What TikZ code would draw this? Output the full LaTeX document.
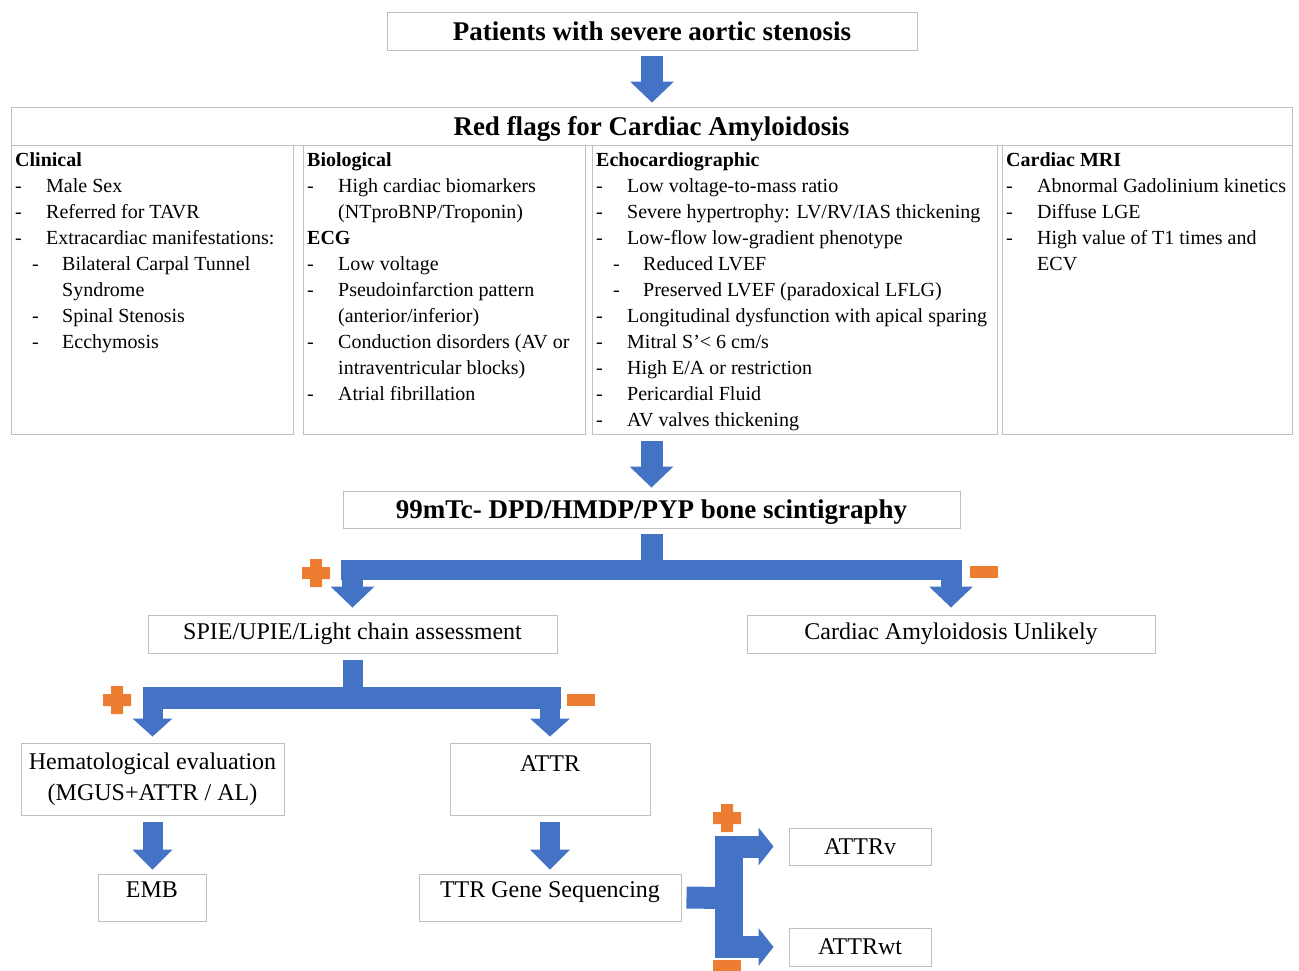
\documentclass[tikz,border=0pt]{standalone}
\usepackage{fontspec}
\setmainfont{Liberation Serif}
\usetikzlibrary{arrows.meta}

\definecolor{flowblue}{HTML}{4472C4}
\definecolor{signorange}{HTML}{ED7D31}
\definecolor{framegray}{HTML}{BFBFBF}

\newcommand{\flag}[1]{\makebox[31pt][l]{-}#1}
\newcommand{\subflag}[1]{\hspace*{17pt}\makebox[30pt][l]{-}#1}
\newcommand{\wrapflag}{\hspace*{31pt}}
\newcommand{\wrapsub}{\hspace*{47pt}}

\tikzset{frame/.style={draw=framegray,line width=1pt,inner sep=0pt},
         heading/.style={font=\fontsize{27}{32}\selectfont\bfseries},
         plain/.style={font=\fontsize{24}{31}\selectfont,align=center},
         listing/.style={font=\fontsize{20}{26}\selectfont,align=left,anchor=north west,inner sep=0pt},
         fat/.style={flowblue,line width=22pt},
         fatarrow/.style={fat,-{Triangle[width=44pt,length=21pt,line width=0pt]}},
         plussign/.pic={\fill[signorange] (-14,-6) rectangle (14,6) (-6,-14) rectangle (6,14);},
         minussign/.pic={\fill[signorange] (-14,-6) rectangle (14,6);}}

\begin{document}
\begin{tikzpicture}[x=1pt,y=-1pt]
\useasboundingbox (0,0) rectangle (1299,970);

% top of the chart
\node[frame,heading,minimum width=530pt,minimum height=38pt] (patients) at (652,31) {Patients with severe aortic stenosis};
\node[frame,heading,text depth=0pt,minimum width=1281pt,minimum height=38pt] (flags) at (651.5,126) {Red flags for Cardiac Amyloidosis};
\node[frame,minimum width=282pt,minimum height=289pt,anchor=north west] (clin) at (11,145) {};
\node[frame,minimum width=282pt,minimum height=289pt,anchor=north west] (bio) at (303,145) {};
\node[frame,minimum width=405pt,minimum height=289pt,anchor=north west] (echo) at (592,145) {};
\node[frame,minimum width=290pt,minimum height=289pt,anchor=north west] (mri) at (1002,145) {};

\node[listing] (clintext) at (15,152) {\textbf{Clinical}\\
  \flag{Male Sex}\\
  \flag{Referred for TAVR}\\
  \flag{Extracardiac manifestations:}\\
  \subflag{Bilateral Carpal Tunnel}\\
  \wrapsub Syndrome\\
  \subflag{Spinal Stenosis}\\
  \subflag{Ecchymosis}};
\node[listing] (biotext) at (307,152) {\textbf{Biological}\\
  \flag{High cardiac biomarkers}\\
  \wrapflag(NTproBNP/Troponin)\\
  \textbf{ECG}\\
  \flag{Low voltage}\\
  \flag{Pseudoinfarction pattern}\\
  \wrapflag(anterior/inferior)\\
  \flag{Conduction disorders (AV or}\\
  \wrapflag intraventricular blocks)\\
  \flag{Atrial fibrillation}};
\node[listing] (echotext) at (596,152) {\textbf{Echocardiographic}\\
  \flag{Low voltage-to-mass ratio}\\
  \flag{Severe hypertrophy: LV/RV/IAS thickening}\\
  \flag{Low-flow low-gradient phenotype}\\
  \subflag{Reduced LVEF}\\
  \subflag{Preserved LVEF (paradoxical LFLG)}\\
  \flag{Longitudinal dysfunction with apical sparing}\\
  \flag{Mitral S’< 6 cm/s}\\
  \flag{High E/A or restriction}\\
  \flag{Pericardial Fluid}\\
  \flag{AV valves thickening}};
\node[listing] (mritext) at (1006,152) {\textbf{Cardiac MRI}\\
  \flag{Abnormal Gadolinium kinetics}\\
  \flag{Diffuse LGE}\\
  \flag{High value of T1 times and}\\
  \wrapflag ECV};

% lower part
\node[frame,heading,text depth=0pt,minimum width=617pt,minimum height=37pt] (scint) at (651.5,509.5) {99mTc- DPD/HMDP/PYP bone scintigraphy};
\node[frame,plain,minimum width=409pt,minimum height=38pt] (spie) at (352.5,634) {SPIE/UPIE/Light chain assessment};
\node[frame,plain,minimum width=408pt,minimum height=38pt] (unlikely) at (951,634) {Cardiac Amyloidosis Unlikely};
\node[frame,plain,minimum width=263pt,minimum height=72pt] (hemat) at (152.5,779) {Hematological evaluation\\(MGUS+ATTR / AL)};
\node[frame,plain,minimum width=200pt,minimum height=72pt] (attr) at (550,779) {ATTR\\\mbox{}};
\node[frame,plain,minimum width=108pt,minimum height=47pt,text height=16pt,text depth=17pt] (emb) at (152,897.5) {EMB};
\node[frame,plain,minimum width=262pt,minimum height=47pt,text height=16pt,text depth=17pt] (ttr) at (550,897.5) {TTR Gene Sequencing};
\node[frame,plain,minimum width=142pt,minimum height=37pt] (attrv) at (860,846.5) {ATTRv};
\node[frame,plain,minimum width=142pt,minimum height=38pt] (attrwt) at (860,947) {ATTRwt};

\coordinate (bar1) at (652,570);
\coordinate (bar1l) at (341,570);
\coordinate (bar1r) at (962,570);
\coordinate (bar2) at (352.5,698);
\coordinate (bar2l) at (143,698);
\coordinate (bar2r) at (561,698);
\coordinate (split3) at (729,898);
\coordinate (bar3t) at (729,836);
\coordinate (bar3b) at (729,958);

% arrows
\draw[fatarrow,shorten <=5pt,shorten >=4pt] (patients.south) -- (patients.south |- flags.north);
\draw[fatarrow,shorten <=6pt,shorten >=3pt] (scint.north |- echo.south) -- (scint.north);

\draw[fat,shorten <=5pt] (scint.south) -- (scint.south |- bar1);
\draw[fat,line width=20pt] (bar1l) -- (bar1r);
\draw[fatarrow,line width=21pt,shorten >=7pt] (spie.north |- bar1) -- (spie.north);
\draw[fatarrow,line width=21pt,shorten >=7pt] (unlikely.north |- bar1) -- (unlikely.north);

\draw[fat,line width=20pt,shorten <=6pt] (spie.south) -- (bar2);
\draw[fat] (bar2l) -- (bar2r);
\draw[fatarrow,line width=20pt,-{Triangle[width=40pt,length=18pt,line width=0pt]},shorten >=6pt] (hemat.north |- bar2) -- (hemat.north);
\draw[fatarrow,line width=20pt,-{Triangle[width=40pt,length=18pt,line width=0pt]},shorten >=6pt] (attr.north |- bar2) -- (attr.north);

\draw[fatarrow,line width=20pt,-{Triangle[width=40pt,length=20pt,line width=0pt]},shorten <=6pt,shorten >=4pt] (hemat.south) -- (hemat.south |- emb.north);
\draw[fatarrow,line width=20pt,-{Triangle[width=40pt,length=20pt,line width=0pt]},shorten <=6pt,shorten >=4pt] (attr.south) -- (attr.south |- ttr.north);

\draw[fat,shorten <=5pt] (ttr.east) -- (split3);
\draw[fat,line width=28pt] (bar3t) -- (bar3b);
\draw[fatarrow,-{Triangle[width=38pt,length=15pt,line width=0pt]},shorten >=15pt] (split3 |- attrv.west) -- (attrv.west);
\draw[fatarrow,-{Triangle[width=38pt,length=15pt,line width=0pt]},shorten >=15pt] (split3 |- attrwt.west) -- (attrwt.west);

% signs
\pic at (316,573) {plussign};
\pic at (984,572) {minussign};
\pic at (117,700) {plussign};
\pic at (581,700) {minussign};
\pic at (727,818) {plussign};
\pic at (727,966) {minussign};
\end{tikzpicture}
\end{document}
